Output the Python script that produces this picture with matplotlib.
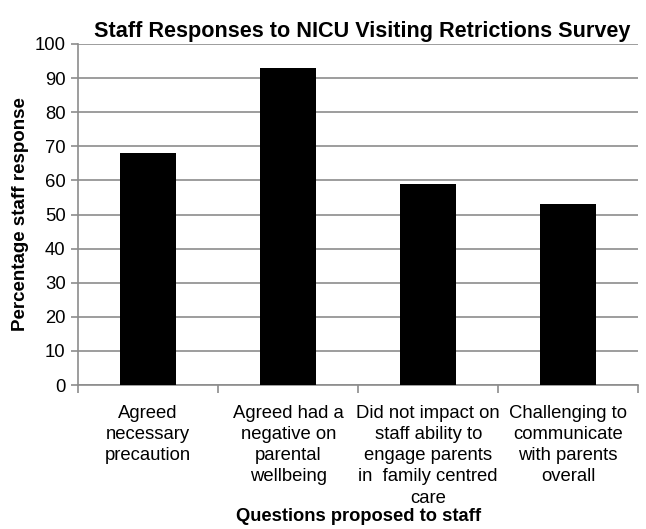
import numpy as np
import matplotlib.pyplot as plt

plt.rcParams['font.family'] = ['Liberation Sans', 'DejaVu Sans']

# data
categories = ["Agreed\nnecessary\nprecaution",
              "Agreed had a\nnegative on\nparental\nwellbeing",
              "Did not impact on\nstaff ability to\nengage parents\nin  family centred\ncare",
              "Challenging to\ncommunicate\nwith parents\noverall"]
values = [68, 93, 59, 53]
yticks = list(range(0, 101, 10))

fig = plt.figure(figsize=(6.46, 5.29), dpi=100)
ax = fig.add_axes([0.121, 0.272, 0.867, 0.645])

x = np.arange(len(categories))
ax.bar(x, values, width=0.4, color='black', zorder=3)

ax.set_xlim(-0.5, len(categories) - 0.5)
ax.set_ylim(0, 100)
ax.set_yticks(yticks)
ax.yaxis.grid(True, color='#8c8c8c', linewidth=1.2, zorder=0)

# category ticks sit on boundaries, labels centered under bars
ax.set_xticks(np.arange(len(categories) + 1) - 0.5)
ax.set_xticklabels([])
ax.set_xticks(x, minor=True)
ax.set_xticklabels(categories, minor=True, fontsize=13.3, linespacing=1.33)
ax.tick_params(axis='x', which='minor', length=0, pad=14)
ax.tick_params(axis='x', which='major', length=6, color='#8c8c8c', width=1.2)
ax.tick_params(axis='y', length=5, color='#8c8c8c', width=1.2, labelsize=13.3, pad=4)

for s in ['top', 'right']:
    ax.spines[s].set_visible(False)
for s in ['left', 'bottom']:
    ax.spines[s].set_color('#8c8c8c')
    ax.spines[s].set_linewidth(1.2)

ax.set_title("Staff Responses to NICU Visiting Retrictions Survey",
             fontsize=15.6, fontweight='bold', pad=5, x=0.507)
ax.set_ylabel("Percentage staff response", fontsize=13.5, fontweight='bold', labelpad=4)
ax.set_xlabel("Questions proposed to staff", fontsize=13.2, fontweight='bold', labelpad=1)

fig.savefig("out.png", dpi=100)
